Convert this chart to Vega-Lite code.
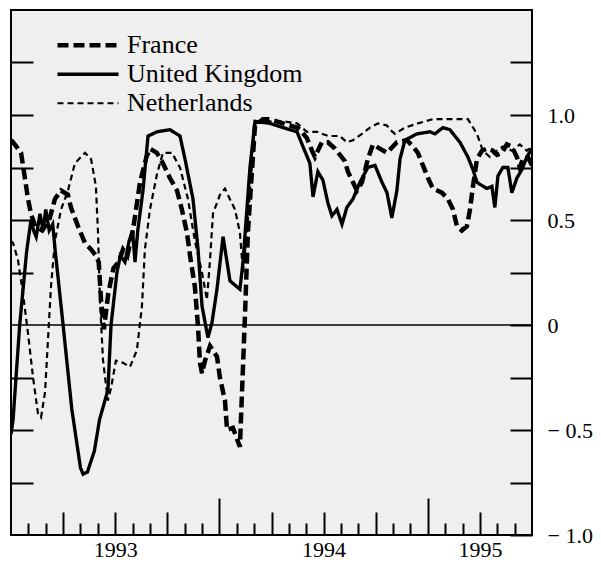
{
  "$schema": "https://vega.github.io/schema/vega-lite/v6.json",
  "autosize": "none",
  "padding": {"left": 11, "top": 10, "right": 69, "bottom": 27},
  "width": 521,
  "height": 525,
  "background": "white",
  "config": {
    "view": {"stroke": "#000", "strokeWidth": 2, "fill": "#efefef"},
    "font": "Liberation Serif"
  },
  "datasets": {
    "series": [
      {"c":"France","t":0,"v":0.88},{"c":"France","t":0.12,"v":0.87},{"c":"France","t":0.58,"v":0.82},{"c":"France","t":0.8,"v":0.7},{"c":"France","t":0.98,"v":0.6},{"c":"France","t":1.15,"v":0.53},{"c":"France","t":1.4,"v":0.47},{"c":"France","t":1.8,"v":0.45},{"c":"France","t":2.2,"v":0.5},{"c":"France","t":2.53,"v":0.6},{"c":"France","t":2.88,"v":0.64},{"c":"France","t":3.28,"v":0.62},{"c":"France","t":3.45,"v":0.56},{"c":"France","t":3.86,"v":0.47},{"c":"France","t":4.26,"v":0.39},{"c":"France","t":4.61,"v":0.36},{"c":"France","t":4.89,"v":0.33},{"c":"France","t":5.05,"v":0.3},{"c":"France","t":5.2,"v":0.1},{"c":"France","t":5.35,"v":-0.02},{"c":"France","t":5.6,"v":0.15},{"c":"France","t":5.9,"v":0.27},{"c":"France","t":6.2,"v":0.3},{"c":"France","t":6.45,"v":0.36},{"c":"France","t":6.7,"v":0.33},{"c":"France","t":7.02,"v":0.45},{"c":"France","t":7.43,"v":0.68},{"c":"France","t":7.8,"v":0.8},{"c":"France","t":8.0,"v":0.84},{"c":"France","t":8.4,"v":0.82},{"c":"France","t":8.75,"v":0.77},{"c":"France","t":9.15,"v":0.7},{"c":"France","t":9.56,"v":0.64},{"c":"France","t":9.84,"v":0.55},{"c":"France","t":10.13,"v":0.44},{"c":"France","t":10.31,"v":0.33},{"c":"France","t":10.59,"v":0.18},{"c":"France","t":10.77,"v":-0.01},{"c":"France","t":10.88,"v":-0.18},{"c":"France","t":11.0,"v":-0.23},{"c":"France","t":11.17,"v":-0.17},{"c":"France","t":11.46,"v":-0.1},{"c":"France","t":11.86,"v":-0.15},{"c":"France","t":12.03,"v":-0.25},{"c":"France","t":12.32,"v":-0.36},{"c":"France","t":12.44,"v":-0.5},{"c":"France","t":12.78,"v":-0.49},{"c":"France","t":13.18,"v":-0.58},{"c":"France","t":13.47,"v":0.04},{"c":"France","t":13.64,"v":0.44},{"c":"France","t":14.05,"v":0.95},{"c":"France","t":14.5,"v":0.98},{"c":"France","t":14.91,"v":0.98},{"c":"France","t":15.66,"v":0.96},{"c":"France","t":16.47,"v":0.94},{"c":"France","t":16.64,"v":0.93},{"c":"France","t":17.04,"v":0.89},{"c":"France","t":17.33,"v":0.83},{"c":"France","t":17.5,"v":0.8},{"c":"France","t":17.9,"v":0.87},{"c":"France","t":18.25,"v":0.87},{"c":"France","t":18.65,"v":0.84},{"c":"France","t":18.94,"v":0.81},{"c":"France","t":19.23,"v":0.78},{"c":"France","t":19.4,"v":0.73},{"c":"France","t":19.63,"v":0.69},{"c":"France","t":19.92,"v":0.64},{"c":"France","t":20.21,"v":0.68},{"c":"France","t":20.55,"v":0.79},{"c":"France","t":20.84,"v":0.86},{"c":"France","t":21.24,"v":0.84},{"c":"France","t":21.65,"v":0.82},{"c":"France","t":22.22,"v":0.87},{"c":"France","t":22.8,"v":0.88},{"c":"France","t":23.14,"v":0.85},{"c":"France","t":23.43,"v":0.82},{"c":"France","t":23.72,"v":0.76},{"c":"France","t":24.01,"v":0.7},{"c":"France","t":24.29,"v":0.65},{"c":"France","t":24.81,"v":0.63},{"c":"France","t":25.16,"v":0.6},{"c":"France","t":25.45,"v":0.55},{"c":"France","t":25.68,"v":0.47},{"c":"France","t":25.96,"v":0.45},{"c":"France","t":26.25,"v":0.47},{"c":"France","t":26.43,"v":0.55},{"c":"France","t":26.6,"v":0.66},{"c":"France","t":26.83,"v":0.79},{"c":"France","t":27.12,"v":0.83},{"c":"France","t":27.4,"v":0.84},{"c":"France","t":27.75,"v":0.83},{"c":"France","t":27.98,"v":0.81},{"c":"France","t":28.27,"v":0.82},{"c":"France","t":28.55,"v":0.86},{"c":"France","t":28.84,"v":0.85},{"c":"France","t":29.13,"v":0.8},{"c":"France","t":29.3,"v":0.75},{"c":"France","t":29.47,"v":0.79},{"c":"France","t":29.76,"v":0.8},{"c":"France","t":30,"v":0.76},

      {"c":"United Kingdom","t":0,"v":-0.52},{"c":"United Kingdom","t":0.12,"v":-0.45},{"c":"United Kingdom","t":0.5,"v":0.0},{"c":"United Kingdom","t":0.9,"v":0.35},{"c":"United Kingdom","t":1.15,"v":0.5},{"c":"United Kingdom","t":1.3,"v":0.45},{"c":"United Kingdom","t":1.45,"v":0.42},{"c":"United Kingdom","t":1.67,"v":0.53},{"c":"United Kingdom","t":1.85,"v":0.45},{"c":"United Kingdom","t":2.0,"v":0.55},{"c":"United Kingdom","t":2.2,"v":0.45},{"c":"United Kingdom","t":2.4,"v":0.48},{"c":"United Kingdom","t":2.55,"v":0.35},{"c":"United Kingdom","t":3.0,"v":0.0},{"c":"United Kingdom","t":3.5,"v":-0.4},{"c":"United Kingdom","t":4.0,"v":-0.68},{"c":"United Kingdom","t":4.15,"v":-0.71},{"c":"United Kingdom","t":4.4,"v":-0.7},{"c":"United Kingdom","t":4.8,"v":-0.6},{"c":"United Kingdom","t":5.1,"v":-0.45},{"c":"United Kingdom","t":5.58,"v":-0.31},{"c":"United Kingdom","t":5.76,"v":0.0},{"c":"United Kingdom","t":6.1,"v":0.25},{"c":"United Kingdom","t":6.3,"v":0.33},{"c":"United Kingdom","t":6.56,"v":0.3},{"c":"United Kingdom","t":6.8,"v":0.4},{"c":"United Kingdom","t":7.0,"v":0.45},{"c":"United Kingdom","t":7.14,"v":0.3},{"c":"United Kingdom","t":7.3,"v":0.45},{"c":"United Kingdom","t":7.6,"v":0.64},{"c":"United Kingdom","t":7.89,"v":0.9},{"c":"United Kingdom","t":8.41,"v":0.92},{"c":"United Kingdom","t":9.15,"v":0.93},{"c":"United Kingdom","t":9.73,"v":0.9},{"c":"United Kingdom","t":10.02,"v":0.79},{"c":"United Kingdom","t":10.48,"v":0.6},{"c":"United Kingdom","t":10.77,"v":0.36},{"c":"United Kingdom","t":11.0,"v":0.09},{"c":"United Kingdom","t":11.34,"v":-0.06},{"c":"United Kingdom","t":11.57,"v":0.01},{"c":"United Kingdom","t":11.86,"v":0.17},{"c":"United Kingdom","t":12.21,"v":0.42},{"c":"United Kingdom","t":12.61,"v":0.21},{"c":"United Kingdom","t":13.18,"v":0.17},{"c":"United Kingdom","t":13.36,"v":0.3},{"c":"United Kingdom","t":13.76,"v":0.75},{"c":"United Kingdom","t":14.05,"v":0.97},{"c":"United Kingdom","t":14.91,"v":0.96},{"c":"United Kingdom","t":15.66,"v":0.94},{"c":"United Kingdom","t":16.47,"v":0.92},{"c":"United Kingdom","t":16.81,"v":0.85},{"c":"United Kingdom","t":17.21,"v":0.77},{"c":"United Kingdom","t":17.39,"v":0.61},{"c":"United Kingdom","t":17.67,"v":0.73},{"c":"United Kingdom","t":17.96,"v":0.69},{"c":"United Kingdom","t":18.25,"v":0.58},{"c":"United Kingdom","t":18.48,"v":0.52},{"c":"United Kingdom","t":18.77,"v":0.55},{"c":"United Kingdom","t":19.06,"v":0.48},{"c":"United Kingdom","t":19.34,"v":0.56},{"c":"United Kingdom","t":19.69,"v":0.6},{"c":"United Kingdom","t":20.09,"v":0.68},{"c":"United Kingdom","t":20.55,"v":0.75},{"c":"United Kingdom","t":20.96,"v":0.76},{"c":"United Kingdom","t":21.36,"v":0.68},{"c":"United Kingdom","t":21.65,"v":0.63},{"c":"United Kingdom","t":21.93,"v":0.51},{"c":"United Kingdom","t":22.22,"v":0.64},{"c":"United Kingdom","t":22.4,"v":0.79},{"c":"United Kingdom","t":22.68,"v":0.88},{"c":"United Kingdom","t":23.37,"v":0.91},{"c":"United Kingdom","t":24.12,"v":0.92},{"c":"United Kingdom","t":24.41,"v":0.91},{"c":"United Kingdom","t":24.87,"v":0.94},{"c":"United Kingdom","t":25.27,"v":0.93},{"c":"United Kingdom","t":25.85,"v":0.87},{"c":"United Kingdom","t":26.31,"v":0.8},{"c":"United Kingdom","t":26.6,"v":0.74},{"c":"United Kingdom","t":26.83,"v":0.68},{"c":"United Kingdom","t":27.0,"v":0.67},{"c":"United Kingdom","t":27.4,"v":0.65},{"c":"United Kingdom","t":27.69,"v":0.66},{"c":"United Kingdom","t":27.86,"v":0.56},{"c":"United Kingdom","t":28.04,"v":0.71},{"c":"United Kingdom","t":28.32,"v":0.75},{"c":"United Kingdom","t":28.61,"v":0.75},{"c":"United Kingdom","t":28.84,"v":0.63},{"c":"United Kingdom","t":29.13,"v":0.7},{"c":"United Kingdom","t":29.42,"v":0.74},{"c":"United Kingdom","t":29.7,"v":0.8},{"c":"United Kingdom","t":30,"v":0.84},

      {"c":"Netherlands","t":0,"v":0.4},{"c":"Netherlands","t":0.12,"v":0.39},{"c":"Netherlands","t":0.4,"v":0.31},{"c":"Netherlands","t":0.69,"v":0.15},{"c":"Netherlands","t":0.98,"v":-0.04},{"c":"Netherlands","t":1.27,"v":-0.25},{"c":"Netherlands","t":1.55,"v":-0.42},{"c":"Netherlands","t":1.73,"v":-0.44},{"c":"Netherlands","t":1.96,"v":-0.32},{"c":"Netherlands","t":2.13,"v":-0.07},{"c":"Netherlands","t":2.3,"v":0.18},{"c":"Netherlands","t":2.53,"v":0.4},{"c":"Netherlands","t":2.88,"v":0.55},{"c":"Netherlands","t":3.28,"v":0.64},{"c":"Netherlands","t":3.68,"v":0.77},{"c":"Netherlands","t":4.26,"v":0.82},{"c":"Netherlands","t":4.61,"v":0.79},{"c":"Netherlands","t":4.89,"v":0.66},{"c":"Netherlands","t":5.01,"v":0.44},{"c":"Netherlands","t":5.12,"v":0.12},{"c":"Netherlands","t":5.3,"v":-0.17},{"c":"Netherlands","t":5.58,"v":-0.36},{"c":"Netherlands","t":5.76,"v":-0.3},{"c":"Netherlands","t":6.04,"v":-0.17},{"c":"Netherlands","t":6.45,"v":-0.18},{"c":"Netherlands","t":6.85,"v":-0.2},{"c":"Netherlands","t":7.25,"v":-0.12},{"c":"Netherlands","t":7.54,"v":0.09},{"c":"Netherlands","t":7.71,"v":0.36},{"c":"Netherlands","t":8.0,"v":0.55},{"c":"Netherlands","t":8.41,"v":0.72},{"c":"Netherlands","t":8.75,"v":0.82},{"c":"Netherlands","t":9.27,"v":0.82},{"c":"Netherlands","t":9.73,"v":0.75},{"c":"Netherlands","t":10.19,"v":0.6},{"c":"Netherlands","t":10.59,"v":0.4},{"c":"Netherlands","t":11.0,"v":0.25},{"c":"Netherlands","t":11.28,"v":0.12},{"c":"Netherlands","t":11.46,"v":0.31},{"c":"Netherlands","t":11.63,"v":0.53},{"c":"Netherlands","t":12.03,"v":0.62},{"c":"Netherlands","t":12.32,"v":0.65},{"c":"Netherlands","t":12.6,"v":0.6},{"c":"Netherlands","t":12.9,"v":0.55},{"c":"Netherlands","t":13.18,"v":0.44},{"c":"Netherlands","t":13.36,"v":0.25},{"c":"Netherlands","t":13.64,"v":0.5},{"c":"Netherlands","t":14.05,"v":0.96},{"c":"Netherlands","t":14.91,"v":0.97},{"c":"Netherlands","t":15.66,"v":0.97},{"c":"Netherlands","t":16.47,"v":0.96},{"c":"Netherlands","t":17.04,"v":0.92},{"c":"Netherlands","t":17.62,"v":0.92},{"c":"Netherlands","t":18.25,"v":0.9},{"c":"Netherlands","t":18.94,"v":0.9},{"c":"Netherlands","t":19.34,"v":0.87},{"c":"Netherlands","t":19.69,"v":0.88},{"c":"Netherlands","t":20.21,"v":0.91},{"c":"Netherlands","t":20.67,"v":0.94},{"c":"Netherlands","t":21.13,"v":0.96},{"c":"Netherlands","t":21.65,"v":0.95},{"c":"Netherlands","t":21.82,"v":0.93},{"c":"Netherlands","t":22.11,"v":0.91},{"c":"Netherlands","t":22.68,"v":0.94},{"c":"Netherlands","t":23.43,"v":0.96},{"c":"Netherlands","t":24.29,"v":0.98},{"c":"Netherlands","t":25.39,"v":0.98},{"c":"Netherlands","t":26.31,"v":0.98},{"c":"Netherlands","t":26.83,"v":0.91},{"c":"Netherlands","t":27.17,"v":0.83},{"c":"Netherlands","t":27.58,"v":0.8},{"c":"Netherlands","t":27.98,"v":0.83},{"c":"Netherlands","t":28.32,"v":0.85},{"c":"Netherlands","t":28.84,"v":0.83},{"c":"Netherlands","t":29.3,"v":0.86},{"c":"Netherlands","t":29.7,"v":0.83},{"c":"Netherlands","t":30,"v":0.85}
    ]
  },
  "resolve": {"axis": {"y": "independent"}},
  "layer": [
    {
      "data": {"values": [{"zero": 0}]},
      "mark": {"type": "rule", "stroke": "#000", "strokeWidth": 1.5},
      "encoding": {
        "y": {"field": "zero", "type": "quantitative", "scale": {"domain": [-1, 1.5], "nice": false, "zero": false},
          "axis": {"orient": "left", "title": null, "values": [-0.75, -0.5, -0.25, 0.25, 0.5, 0.75, 1, 1.25], "labels": false, "domain": false, "grid": false, "tickSize": -22, "tickColor": "#000", "tickWidth": 2}}
      }
    },
    {
      "data": {"name": "series"},
      "mark": {"type": "line", "stroke": "#000", "clip": true},
      "encoding": {
        "x": {"field": "t", "type": "quantitative", "scale": {"domain": [0, 30], "nice": false, "zero": false},
          "axis": {"title": null, "domain": false, "grid": false,
            "values": [1,2,3,4,5,6,7,8,9,10,11,12,13,14,15,16,17,18,19,20,21,22,23,24,25,26,27,28,29],
            "labelExpr": "datum.value == 6 ? '1993' : datum.value == 18 ? '1994' : datum.value == 27 ? '1995' : ''",
            "labelOverlap": false, "labelFont": "Liberation Serif", "labelFontSize": 22, "labelColor": "#000",
            "labelPadding": 27,
            "tickColor": "#000", "tickWidth": 2,
            "tickSize": {"condition": [{"test": "datum.value % 12 === 0", "value": -37}, {"test": "datum.value % 3 === 0", "value": -23}], "value": -12}}},
        "y": {"field": "v", "type": "quantitative", "scale": {"domain": [-1, 1.5], "nice": false, "zero": false},
          "axis": {"orient": "right", "title": null, "domain": false, "grid": false,
            "values": [-1, -0.75, -0.5, -0.25, 0, 0.25, 0.5, 0.75, 1, 1.25],
            "labelExpr": "datum.value == 1 ? '1.0' : datum.value == 0.5 ? '0.5' : datum.value == 0 ? '0' : datum.value == -0.5 ? '− 0.5' : datum.value == -1 ? '− 1.0' : ''",
            "labelOverlap": false, "labelFont": "Liberation Serif", "labelFontSize": 22, "labelColor": "#000",
            "labelAlign": "left", "labelPadding": 37,
            "tickSize": -22, "tickColor": "#000", "tickWidth": 2}},
        "strokeDash": {"field": "c", "type": "nominal",
          "scale": {"domain": ["France", "United Kingdom", "Netherlands"], "range": [[11, 5], [1, 0], [6, 4]]},
          "legend": {"title": null, "orient": "none", "legendX": 44, "legendY": 21, "symbolType": "stroke", "symbolSize": 3721, "clipHeight": 28.5, "rowPadding": 0, "labelOffset": 6, "labelLimit": 400, "labelFont": "Liberation Serif", "labelFontSize": 26, "labelColor": "#000", "symbolStrokeColor": "#000"}},
        "strokeWidth": {"field": "c", "type": "nominal",
          "scale": {"domain": ["France", "United Kingdom", "Netherlands"], "range": [4.5, 2.2, 2.4]},
          "legend": {"title": null, "orient": "none", "legendX": 44, "legendY": 21, "symbolType": "stroke", "symbolSize": 3721, "clipHeight": 28.5, "rowPadding": 0, "labelOffset": 6, "labelLimit": 400, "labelFont": "Liberation Serif", "labelFontSize": 26, "labelColor": "#000", "symbolStrokeColor": "#000"}}
      }
    }
  ]
}
